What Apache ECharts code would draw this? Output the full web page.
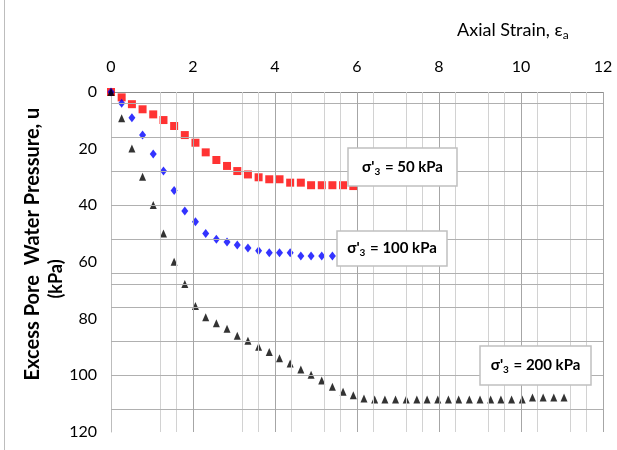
<!DOCTYPE html>
<html>
<head>
<meta charset="utf-8">
<script src="https://cdn.jsdelivr.net/npm/echarts/dist/echarts.min.js"></script>
<style>
  html, body { margin: 0; padding: 0; background: #fff; }
  #main { width: 617px; height: 450px; }
</style>
</head>
<body>
<div id="main"></div>
<script>
// 轴向应变 (%)
const strain = [0, 0.26, 0.51, 0.77, 1.03, 1.28, 1.54, 1.80, 2.06, 2.31, 2.57, 2.83, 3.08, 3.34, 3.60,
  3.86, 4.11, 4.37, 4.63, 4.88, 5.14, 5.40, 5.66, 5.91, 6.17, 6.43, 6.68, 6.94, 7.20, 7.46, 7.71,
  7.97, 8.23, 8.48, 8.74, 9.00, 9.26, 9.51, 9.77, 10.03, 10.28, 10.54, 10.80, 11.05]

// 超孔隙水压力 u (kPa)
const u50 = [0, 1.9, 4.3, 6.1, 7.9, 9.9, 12.0, 15.2, 17.9, 21.3, 24.0, 26.1, 27.9, 29.1, 30.1,
  30.8, 30.8, 32.0, 32.0, 32.9, 32.9, 32.9, 32.9, 33.2]
const u100 = [0, 4.0, 9.1, 15.2, 21.9, 27.9, 34.8, 42.0, 45.8, 49.9, 52.0, 52.9, 54.0, 55.1, 56.0,
  56.7, 56.7, 56.7, 57.9, 57.9, 57.9, 57.9]
const u200 = [0, 9.3, 19.9, 29.9, 39.9, 49.9, 59.9, 67.8, 75.5, 79.5, 81.6, 83.6, 86.0, 87.8, 89.9,
  91.8, 94.0, 95.8, 97.9, 99.8, 101.8, 104.0, 105.8, 107.0, 108.2, 108.5, 108.5, 108.5, 108.5, 108.5,
  108.5, 108.5, 108.5, 108.5, 108.5, 108.5, 108.5, 108.5, 108.5, 108.5, 107.8, 107.8, 107.8, 107.8]

const labels = ['50 kPa', '100 kPa', '200 kPa']

// 网格线位置
const xMajor = [2, 4, 6, 8, 10, 12]
const xMinor = [1.2, 1.6, 3.2, 3.6, 4.4, 5.2, 5.6, 6.4, 7.2, 7.6, 8.4, 9.2, 9.6, 10.4, 11.2, 11.6]
const yLines = [4, 16, 28, 40, 52, 64, 68, 76, 88, 100, 112]

const zip = (ys) => ys.map((y, i) => [strain[i], y])

let myChart = echarts.init(document.getElementById('main'))

const font = 'Lato, "Open Sans", sans-serif'

function boxLabel(x, y, w, h, txt) {
    return {
        type: 'group',
        x: x,
        y: y,
        children: [{
            type: 'rect',
            z: 100,
            shape: { x: 0, y: 0, width: w, height: h },
            style: { fill: '#fff', stroke: '#c0c0c0', lineWidth: 1.5 }
        }, {
            type: 'text',
            z: 101,
            x: w / 2,
            y: h / 2,
            style: {
                text: "{b|σ'}{s|3}{b| = " + txt + '}',
                align: 'center',
                verticalAlign: 'middle',
                rich: {
                    b: { fontFamily: font, fontWeight: 'bold', fontSize: 15, fill: '#000' },
                    s: { fontFamily: font, fontWeight: 'bold', fontSize: 10, fill: '#000', padding: [9, 1, 0, 0] }
                }
            }
        }]
    }
}

let option = {
    backgroundColor: '#fff',
    animation: false,
    grid: {
        left: 111,
        right: 14,
        top: 92,
        bottom: 18
    },
    xAxis: {
        type: 'value',
        position: 'top',
        min: 0,
        max: 12,
        interval: 2,
        axisLine: { show: true, lineStyle: { color: '#8c8c8c', width: 1 } },
        axisTick: { show: false },
        splitLine: { show: false },
        axisLabel: { color: '#000', fontSize: 16, fontFamily: font, margin: 17 }
    },
    yAxis: {
        type: 'value',
        inverse: true,
        min: 0,
        max: 120,
        interval: 20,
        axisLine: { show: true, lineStyle: { color: '#bdbdbd', width: 1 } },
        axisTick: { show: false },
        splitLine: { show: false },
        axisLabel: { color: '#000', fontSize: 16, fontFamily: font, margin: 14 }
    },
    series: [{
            name: 'grid',
            type: 'scatter',
            data: [],
            z: 1,
            silent: true,
            markLine: {
                silent: true,
                symbol: ['none', 'none'],
                label: { show: false },
                data: [
                    ...xMinor.map(v => ({ xAxis: v, lineStyle: { color: '#d2d2d2', width: 1, type: 'solid' } })),
                    ...yLines.map(v => ({ yAxis: v, lineStyle: { color: '#b0b0b0', width: 1, type: 'solid' } })),
                    ...xMajor.map(v => ({ xAxis: v, lineStyle: { color: '#a6a6a6', width: 1, type: 'solid' } }))
                ]
            }
        },
        {
            name: labels[0],
            type: 'scatter',
            symbol: 'rect',
            symbolSize: [8, 8],
            itemStyle: { color: '#ff0000' },
            data: zip(u50)
        },
        {
            name: labels[1],
            type: 'scatter',
            symbol: 'diamond',
            symbolSize: [7, 9],
            itemStyle: { color: '#0000ff' },
            data: zip(u100)
        },
        {
            name: labels[2],
            type: 'scatter',
            symbol: 'triangle',
            symbolSize: [7, 8],
            itemStyle: { color: '#000' },
            data: zip(u200)
        }
    ],
    graphic: [{
            // 外框
            type: 'line',
            shape: { x1: 4.5, y1: 0, x2: 4.5, y2: 450 },
            style: { stroke: '#bdbdbd', lineWidth: 1 }
        },
        {
            type: 'text',
            x: 457,
            y: 30,
            style: {
                text: 'Axial Strain, {e|ε}{s|a}',
                verticalAlign: 'middle',
                fontFamily: font,
                fontSize: 18,
                fill: '#000',
                rich: {
                    e: { fontFamily: font, fontSize: 18, fill: '#000' },
                    s: { fontFamily: font, fontSize: 12, fill: '#000', padding: [10, 0, 0, 0] }
                }
            }
        },
        {
            type: 'text',
            x: 33,
            y: 244,
            rotation: Math.PI / 2,
            style: {
                text: 'Excess Pore  Water Pressure, u',
                align: 'center',
                verticalAlign: 'middle',
                fontFamily: font,
                fontWeight: 'bold',
                fontSize: 20,
                fill: '#000'
            }
        },
        {
            type: 'text',
            x: 56,
            y: 279,
            rotation: Math.PI / 2,
            style: {
                text: '(kPa)',
                align: 'center',
                verticalAlign: 'middle',
                fontFamily: font,
                fontWeight: 'bold',
                fontSize: 18,
                fill: '#000'
            }
        },
        boxLabel(348, 148, 109, 38, labels[0]),
        boxLabel(337, 231, 110, 35, labels[1]),
        boxLabel(480, 346, 111, 39, labels[2])
    ]
}

myChart.setOption(option)
</script>
</body>
</html>
